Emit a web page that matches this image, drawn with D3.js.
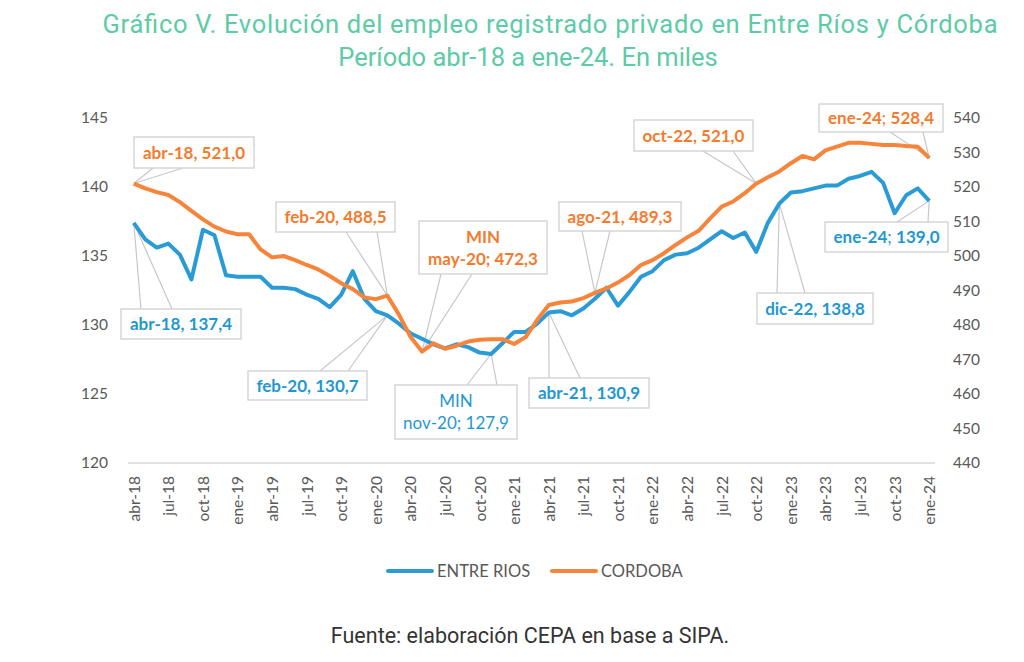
<!DOCTYPE html>
<html>
<head>
<meta charset="utf-8">
<script src="https://cdn.jsdelivr.net/npm/d3@7"></script>
<style>
  body { margin: 0; background: #fff; }
  svg { display: block; }
</style>
</head>
<body>
<script>
var width = 1024;
var height = 662;

// Categories (monthly, abr-18 .. ene-24)
var months = [
  "abr-18","may-18","jun-18","jul-18","ago-18","sep-18","oct-18","nov-18","dic-18",
  "ene-19","feb-19","mar-19","abr-19","may-19","jun-19","jul-19","ago-19","sep-19","oct-19","nov-19","dic-19",
  "ene-20","feb-20","mar-20","abr-20","may-20","jun-20","jul-20","ago-20","sep-20","oct-20","nov-20","dic-20",
  "ene-21","feb-21","mar-21","abr-21","may-21","jun-21","jul-21","ago-21","sep-21","oct-21","nov-21","dic-21",
  "ene-22","feb-22","mar-22","abr-22","may-22","jun-22","jul-22","ago-22","sep-22","oct-22","nov-22","dic-22",
  "ene-23","feb-23","mar-23","abr-23","may-23","jun-23","jul-23","ago-23","sep-23","oct-23","nov-23","dic-23",
  "ene-24"
];

// Entre Rios (left axis, miles)
var entreRios = [
  137.4, 136.2, 135.6, 135.9, 135.1, 133.3, 136.9, 136.5, 133.6,
  133.5, 133.5, 133.5, 132.7, 132.7, 132.6, 132.2, 131.9, 131.3, 132.2, 133.9, 131.9,
  131.0, 130.7, 130.1, 129.4, 129.0, 128.6, 128.3, 128.6, 128.4, 128.0, 127.9, 128.7,
  129.5, 129.5, 130.1, 130.9, 131.0, 130.7, 131.2, 131.9, 132.7, 131.4, 132.4, 133.5,
  133.9, 134.7, 135.1, 135.2, 135.6, 136.2, 136.8, 136.3, 136.7, 135.3, 137.4, 138.8,
  139.6, 139.7, 139.9, 140.1, 140.1, 140.6, 140.8, 141.1, 140.3, 138.1, 139.4, 139.9,
  139.0
];

// Cordoba (right axis, miles)
var cordoba = [
  521.0, 519.6, 518.5, 517.7, 515.6, 513.1, 510.6, 508.5, 507.1,
  506.3, 506.3, 501.9, 499.6, 500.0, 498.8, 497.4, 496.1, 494.2, 492.1, 490.4, 488.0,
  487.5, 488.5, 483.0, 476.6, 472.3, 474.7, 473.1, 474.0, 475.2, 475.7, 475.9, 475.9,
  474.5, 476.5, 481.5, 485.8, 486.5, 486.8, 487.8, 489.3, 490.6, 492.3, 494.5, 497.4,
  498.8, 500.8, 503.2, 505.4, 507.3, 510.9, 514.3, 515.8, 518.2, 521.0, 522.8, 524.5,
  526.9, 529.0, 528.0, 530.6, 531.7, 532.8, 532.8, 532.5, 532.2, 532.2, 531.9, 531.7,
  528.4
];

var leftTicks = [120, 125, 130, 135, 140, 145];
var rightTicks = [440, 450, 460, 470, 480, 490, 500, 510, 520, 530, 540];
var xTickLabels = months.filter(function(m, i) { return i % 3 === 0; });

// Data labels: series, month, text lines (each line = [text, weight] parts)
var callouts = [
  {series: "cba", month: "abr-18", lines: [[["abr-18, 521,0", 700]]]},
  {series: "er",  month: "abr-18", lines: [[["abr-18, 137,4", 700]]]},
  {series: "cba", month: "feb-20", lines: [[["feb-20, 488,5", 700]]]},
  {series: "er",  month: "feb-20", lines: [[["feb-20, 130,7", 700]]]},
  {series: "cba", month: "may-20", lines: [[["MIN", 700]], [["may-20; 472,3", 700]]]},
  {series: "er",  month: "nov-20", lines: [[["MIN", 400]], [["nov-20; 127,9", 400]]]},
  {series: "er",  month: "abr-21", lines: [[["abr-21, 130,9", 700]]]},
  {series: "cba", month: "ago-21", lines: [[["ago-21, 489,3", 700]]]},
  {series: "cba", month: "oct-22", lines: [[["oct-22, 521,0", 700]]]},
  {series: "er",  month: "dic-22", lines: [[["dic-22, 138,8", 700]]]},
  {series: "cba", month: "ene-24", lines: [[["ene-24", 700], ["; ", 400], ["528,4", 700]]]},
  {series: "er",  month: "ene-24", lines: [[["ene-24", 700], ["; ", 400], ["139,0", 700]]]}
];

// Box layout for each callout (same order): box rect and the two leader anchors on its edge
var calloutBoxes = [
  {x: 134, y: 137, w: 120, h: 31, a: [153, 183]},
  {x: 121, y: 309, w: 120, h: 30, a: [141, 172]},
  {x: 276, y: 202, w: 119, h: 30, a: [346, 377]},
  {x: 248, y: 371, w: 119, h: 29, a: [320, 348]},
  {x: 419, y: 221, w: 128, h: 53, a: [441, 472]},
  {x: 395, y: 385, w: 122, h: 54, a: [467, 497]},
  {x: 529, y: 378, w: 120, h: 30, a: [549, 580]},
  {x: 559, y: 202, w: 122, h: 29, a: [582, 610]},
  {x: 634, y: 120, w: 119, h: 31, a: [703, 733]},
  {x: 757, y: 293, w: 116, h: 31, a: [777, 805]},
  {x: 819, y: 104, w: 124, h: 28, a: [890, 923]},
  {x: 825, y: 222, w: 123, h: 30, a: [897, 928]}
];

var blue = "#2b9bd6";
var orange = "#f7843b";
var blueText = "#1f98d2";
var orangeText = "#f47b2e";
var axisText = "#595959";
var font = "Lato, 'Open Sans', sans-serif";

var margin = {left: 128, right: 935, top: 118, bottom: 463};

var svg = d3.select("body").append("svg")
    .attr("width", width)
    .attr("height", height);

var x = d3.scalePoint()
    .domain(months)
    .range([margin.left, margin.right])
    .padding(0.5);

var yLeft = d3.scaleLinear().domain([120, 145]).range([margin.bottom, margin.top]);
var yRight = d3.scaleLinear().domain([440, 540]).range([margin.bottom, margin.top]);

// Title
var title = svg.append("g")
    .attr("font-family", "Roboto, sans-serif")
    .attr("fill", "#5ccba6")
    .attr("font-size", "25.5px")
    .attr("text-anchor", "middle");
title.append("text").attr("x", 550).attr("y", 33)
    .attr("textLength", 895)
    .attr("lengthAdjust", "spacing")
    .text("Gráfico V. Evolución del empleo registrado privado en Entre Ríos y Córdoba");
title.append("text").attr("x", 528).attr("y", 66)
    .text("Período abr-18 a ene-24. En miles");

// Left axis
var leftAxis = svg.append("g")
    .attr("transform", "translate(" + (margin.left - 20) + ",0)")
    .call(d3.axisLeft(yLeft).tickValues(leftTicks).tickSize(0).tickPadding(0));
leftAxis.select(".domain").remove();
leftAxis.selectAll("text")
    .attr("fill", axisText)
    .attr("font-family", font)
    .attr("font-size", "15.5px");

// Right axis
var rightAxis = svg.append("g")
    .attr("transform", "translate(" + (margin.right + 18) + ",0)")
    .call(d3.axisRight(yRight).tickValues(rightTicks).tickSize(0).tickPadding(0));
rightAxis.select(".domain").remove();
rightAxis.selectAll("text")
    .attr("fill", axisText)
    .attr("font-family", font)
    .attr("font-size", "15.5px");

// Bottom baseline
svg.append("line")
    .attr("x1", margin.left).attr("x2", margin.right)
    .attr("y1", margin.bottom).attr("y2", margin.bottom)
    .attr("stroke", "#d9d9d9")
    .attr("stroke-width", 1.3);

// X axis labels (rotated)
var xAxis = svg.append("g")
    .attr("transform", "translate(0," + margin.bottom + ")")
    .call(d3.axisBottom(x).tickValues(xTickLabels).tickSize(0).tickPadding(0));
xAxis.select(".domain").remove();
xAxis.selectAll("text")
    .attr("fill", axisText)
    .attr("font-family", font)
    .attr("font-size", "15.5px")
    .attr("text-anchor", "end")
    .attr("transform", "rotate(-90)")
    .attr("x", -13)
    .attr("y", 0)
    .attr("dy", "0.35em");

// Lines
var erLine = d3.line()
    .x(function(d, i) { return x(months[i]); })
    .y(function(d) { return yLeft(d); });

var cbaLine = d3.line()
    .x(function(d, i) { return x(months[i]); })
    .y(function(d) { return yRight(d); });

// Leader lines drawn below the series
var leaders = svg.append("g").attr("class", "leaders");

svg.append("path")
    .datum(entreRios)
    .attr("fill", "none")
    .attr("stroke", blue)
    .attr("stroke-width", 4)
    .attr("stroke-linejoin", "round")
    .attr("d", erLine);

svg.append("path")
    .datum(cordoba)
    .attr("fill", "none")
    .attr("stroke", orange)
    .attr("stroke-width", 4)
    .attr("stroke-linejoin", "round")
    .attr("d", cbaLine);

// Callouts
var boxes = svg.append("g").attr("class", "callouts");

callouts.forEach(function(c, k) {
    var b = calloutBoxes[k];
    var i = months.indexOf(c.month);
    var px = x(c.month);
    var py = c.series === "er" ? yLeft(entreRios[i]) : yRight(cordoba[i]);
    var edgeY = py < b.y ? b.y : b.y + b.h;
    var color = c.series === "er" ? blueText : orangeText;

    leaders.append("path")
        .attr("d", "M" + b.a[0] + "," + edgeY + "L" + px + "," + py + "L" + b.a[1] + "," + edgeY)
        .attr("fill", "none")
        .attr("stroke", "#c8c8c8")
        .attr("stroke-width", 1.2);

    boxes.append("rect")
        .attr("x", b.x).attr("y", b.y)
        .attr("width", b.w).attr("height", b.h)
        .attr("fill", "#fff")
        .attr("stroke", "#d0d0d0")
        .attr("stroke-width", 1.3);

    var n = c.lines.length;
    var lineH = 22;
    c.lines.forEach(function(parts, j) {
        var t = boxes.append("text")
            .attr("x", b.x + b.w / 2)
            .attr("y", b.y + b.h / 2 + (j - (n - 1) / 2) * lineH)
            .attr("dy", "0.36em")
            .attr("text-anchor", "middle")
            .attr("font-family", font)
            .attr("font-size", "17px")
            .attr("fill", color);
        parts.forEach(function(p) {
            t.append("tspan").attr("font-weight", p[1]).text(p[0]);
        });
    });
});

// Legend
var legendItems = [
  {name: "ENTRE RIOS", color: blue, x: 388},
  {name: "CORDOBA", color: orange, x: 552}
];
var legend = svg.append("g").attr("transform", "translate(0,571)");
legendItems.forEach(function(l) {
    legend.append("line")
        .attr("x1", l.x).attr("x2", l.x + 44)
        .attr("y1", 0).attr("y2", 0)
        .attr("stroke", l.color)
        .attr("stroke-width", 4)
        .attr("stroke-linecap", "round");
    legend.append("text")
        .attr("x", l.x + 49)
        .attr("y", 0)
        .attr("dy", "0.36em")
        .attr("font-family", font)
        .attr("font-size", "16.5px")
        .attr("fill", axisText)
        .text(l.name);
});

// Source
svg.append("text")
    .attr("x", 530)
    .attr("y", 643)
    .attr("text-anchor", "middle")
    .attr("font-family", "Roboto, sans-serif")
    .attr("font-size", "21.5px")
    .attr("fill", "#333")
    .text("Fuente: elaboración CEPA en base a SIPA.");
</script>
</body>
</html>
